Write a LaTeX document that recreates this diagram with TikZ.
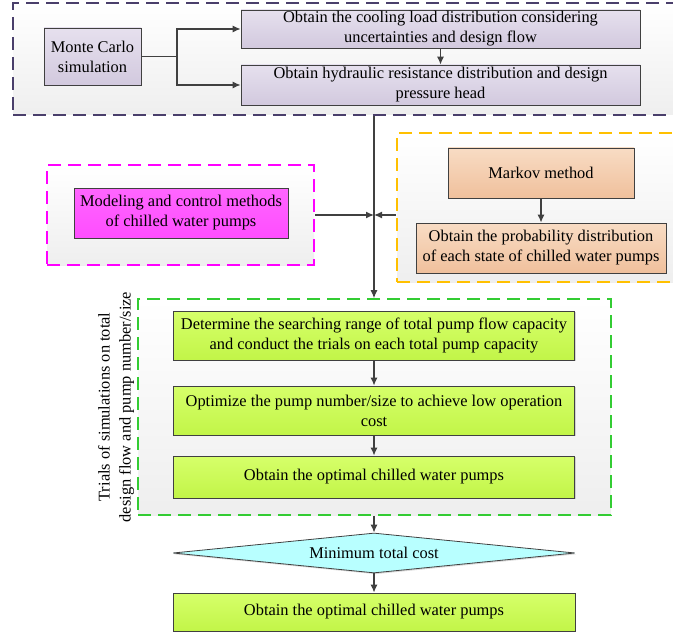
\documentclass[tikz,border=0pt]{standalone}
\usepackage{fontspec}
\setmainfont{Liberation Serif}
\usetikzlibrary{arrows.meta,positioning,calc,shapes.geometric,shadows}
\definecolor{FlowLine}{HTML}{404040}
\definecolor{FrameNavy}{HTML}{4A3F6B}
\definecolor{FrameMagenta}{HTML}{FF00FF}
\definecolor{FrameOrange}{HTML}{FFC000}
\definecolor{FrameGreen}{HTML}{33CC33}
\definecolor{LilacTop}{HTML}{E6E0EE}
\definecolor{LilacBot}{HTML}{D2C9DE}
\definecolor{PinkTop}{HTML}{FF66FF}
\definecolor{PinkBot}{HTML}{FF4DFF}
\definecolor{PeachTop}{HTML}{F8DCC4}
\definecolor{PeachBot}{HTML}{F0C09C}
\definecolor{LimeTop}{HTML}{D6FF6A}
\definecolor{LimeBot}{HTML}{C2F548}
\definecolor{AquaFill}{HTML}{B8FFFF}
\tikzset{
  groupframe/.style={dash pattern=on 13pt off 7pt, line width=1.6pt, inner sep=0pt,
                     top color=white, bottom color=gray!13},
  flowbox/.style={draw=FlowLine, line width=0.8pt, align=center, inner sep=0pt,
                  font=\fontsize{16.4}{20}\selectfont,
                  drop shadow={shadow xshift=1.3pt, shadow yshift=-1.3pt, opacity=.3}},
  lilacbox/.style={flowbox, top color=LilacTop, bottom color=LilacBot},
  pinkbox/.style={flowbox, top color=PinkTop, bottom color=PinkBot},
  peachbox/.style={flowbox, top color=PeachTop, bottom color=PeachBot},
  limebox/.style={flowbox, top color=LimeTop, bottom color=LimeBot},
  flowline/.style={line width=1.2pt, FlowLine},
  flowarrow/.style={flowline, -{Latex[length=8pt,width=7pt]}},
}

\begin{document}
\begin{tikzpicture}[x=1pt, y=-1pt]
  \useasboundingbox (0,0) rectangle (673,634);
  \clip (0,0) rectangle (673,634);

  % dashed groups
  \node[groupframe, draw=FrameNavy, minimum width=677pt, minimum height=112pt] (mcgroup) at (351.5,59) {};
  \node[groupframe, draw=FrameMagenta, minimum width=267pt, minimum height=100pt] (modelgroup) at (180.5,215) {};
  \node[groupframe, draw=FrameOrange, minimum width=293pt, minimum height=149pt] (markovgroup) at (543.5,207.5) {};
  \node[groupframe, draw=FrameGreen, minimum width=473pt, minimum height=216pt] (trialgroup) at (374.5,407) {};

  % Monte Carlo part
  \node[lilacbox, minimum width=97pt, minimum height=57pt] (mc) at (92.5,56.5) {Monte Carlo\\simulation};
  \node[lilacbox, minimum width=399pt, minimum height=38pt] (load) at (440.5,29)
    {Obtain the cooling load distribution considering\\uncertainties and design flow};
  \node[lilacbox, minimum width=399pt, minimum height=40pt] (hyd) at (440.5,85)
    {Obtain hydraulic resistance distribution and design\\pressure head};

  % pump models and states
  \node[pinkbox, minimum width=214pt, minimum height=50pt] (model) at (181,213)
    {Modeling and control methods\\of chilled water pumps};
  \node[peachbox, minimum width=186pt, minimum height=50pt] (markov) at (541,173) {Markov method};
  \node[peachbox, minimum width=250pt, minimum height=50pt] (prob) at (541,248)
    {Obtain the probability distribution\\of each state of chilled water pumps};

  % trials
  \node[limebox, minimum width=401pt, minimum height=49pt] (range) at (374,335.5)
    {Determine the searching range of total pump flow capacity\\and conduct the trials on each total pump capacity};
  \node[limebox, minimum width=401pt, minimum height=49pt] (size) at (374,410.5)
    {Optimize the pump number/size to achieve low operation\\cost};
  \node[limebox, minimum width=401pt, minimum height=42pt] (optimal) at (374,477)
    {Obtain the optimal chilled water pumps};
  \node[rotate=90, align=center, font=\fontsize{16.4}{21}\selectfont] (triallabel) at (116,407)
    {Trials of simulations on total\\design flow and pump number/size};

  % decision
  \node[flowbox, shape=diamond, fill=AquaFill, aspect=10, minimum width=402pt, minimum height=40pt] (mincost) at (374,553)
    {Minimum total cost};
  \node[limebox, minimum width=402pt, minimum height=38pt] (final) at (374,612)
    {Obtain the optimal chilled water pumps};

  % connectors
  \coordinate (split) at (177,56.5);
  \coordinate (join) at (374,215);
  \draw[flowline] (mc.east) -- (split);
  \draw[flowarrow] (split) |- (load.west);
  \draw[flowarrow] (split) |- (hyd.west);
  \draw[flowarrow] (load) -- (hyd);
  \draw[flowarrow] (mcgroup.south -| join) -- (trialgroup.north -| join);
  \draw[flowarrow] (modelgroup.east |- join) -- (join);
  \draw[flowarrow] (markovgroup.west |- join) -- (join);
  \draw[flowarrow] (markov) -- (prob);
  \draw[flowarrow] (range) -- (size);
  \draw[flowarrow] (size) -- (optimal);
  \draw[flowarrow] (trialgroup.south -| mincost) -- (mincost.north);
  \draw[flowarrow] (mincost.south) -- (final.north);

\end{tikzpicture}
\end{document}
